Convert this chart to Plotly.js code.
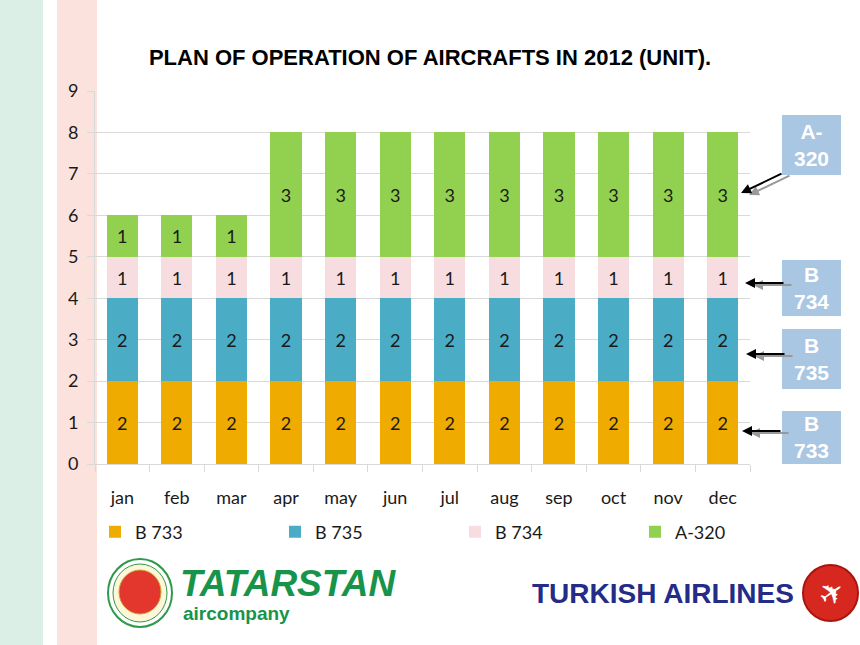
<!DOCTYPE html>
<html>
<head>
<meta charset="utf-8">
<script src="https://cdn.plot.ly/plotly-3.0.1.min.js"></script>
<style>
  html, body { margin: 0; padding: 0; background: #fff; }
  #chart { width: 860px; height: 645px; }
</style>
</head>
<body>
<div id="chart"></div>
<script>
// months and aircraft counts per type
const months = ['jan', 'feb', 'mar', 'apr', 'may', 'jun', 'jul', 'aug', 'sep', 'oct', 'nov', 'dec'];
const b733 = [2, 2, 2, 2, 2, 2, 2, 2, 2, 2, 2, 2];
const b735 = [2, 2, 2, 2, 2, 2, 2, 2, 2, 2, 2, 2];
const b734 = [1, 1, 1, 1, 1, 1, 1, 1, 1, 1, 1, 1];
const a320 = [1, 1, 1, 3, 3, 3, 3, 3, 3, 3, 3, 3];

const seriesNames = ['B 733', 'B 735', 'B 734', 'A-320'];
const seriesColors = ['#f0ab00', '#4bacc6', '#f8dde0', '#92d050'];
const tagLabels = ['A-<br>320', 'B<br>734', 'B<br>735', 'B<br>733'];

// plot area in pixels: x 95..750, y 91..464
const L = 95, R = 750, T = 91, B = 464;
const px = x => (x - L) / (R - L);
const py = y => (B - y) / (B - T);

const labelFont = { family: 'Lato, "Open Sans", sans-serif', size: 18, color: '#1a1a1a' };

function bar(name, vals, color, legend) {
    return {
        type: 'bar',
        name: name,
        x: months,
        y: vals,
        text: vals.map(String),
        textposition: 'inside',
        insidetextanchor: 'middle',
        textangle: 0,
        constraintext: 'none',
        textfont: labelFont,
        marker: { color: color, line: { width: 0 } },
        legend: legend,
        hoverinfo: 'skip'
    };
}

const data = [
    bar(seriesNames[0], b733, seriesColors[0], 'legend'),
    bar(seriesNames[1], b735, seriesColors[1], 'legend'),
    bar(seriesNames[2], b734, seriesColors[2], 'legend'),
    bar(seriesNames[3], a320, seriesColors[3], 'legend2')
];

const shapes = [
    // side stripes
    { type: 'rect', xref: 'paper', yref: 'paper', x0: px(0), x1: px(43), y0: py(645), y1: py(0),
      fillcolor: '#dcefe6', line: { width: 0 }, layer: 'below' },
    { type: 'rect', xref: 'paper', yref: 'paper', x0: px(57), x1: px(97), y0: py(645), y1: py(0),
      fillcolor: '#fce2dc', line: { width: 0 }, layer: 'below' }
];

// tag boxes on the right
const boxes = [[115, 175], [260, 316], [329, 389], [411, 464]];
boxes.forEach(b => {
    shapes.push({ type: 'rect', xref: 'paper', yref: 'paper', x0: px(782), x1: px(841), y0: py(b[1]), y1: py(b[0]),
        fillcolor: '#a9c6e2', line: { width: 0 } });
});

// Tatarstan emblem
shapes.push({ type: 'circle', xref: 'paper', yref: 'paper', x0: px(108), x1: px(172), y0: py(627), y1: py(559),
    fillcolor: '#ffffff', line: { color: '#2e9a48', width: 2 } });
shapes.push({ type: 'circle', xref: 'paper', yref: 'paper', x0: px(113), x1: px(167), y0: py(622), y1: py(564),
    fillcolor: '#fdf6d8', line: { color: '#2e9a48', width: 1 } });
shapes.push({ type: 'circle', xref: 'paper', yref: 'paper', x0: px(119), x1: px(161), y0: py(614), y1: py(570),
    fillcolor: '#e3372d', line: { color: '#c9a23a', width: 1 } });
// Turkish Airlines emblem
shapes.push({ type: 'circle', xref: 'paper', yref: 'paper', x0: px(803), x1: px(858), y0: py(621), y1: py(565),
    fillcolor: '#d7281f', line: { color: '#a9150f', width: 2 } });

const annotations = [];
const tagY = [145, 288, 359, 437];
tagLabels.forEach((t, i) => {
    annotations.push({ xref: 'paper', yref: 'paper', x: px(811), y: py(tagY[i]), text: t, showarrow: false,
        font: { family: 'Liberation Sans, Arial, sans-serif', size: 21, color: '#ffffff', weight: 'bold' },
        xanchor: 'center', yanchor: 'middle' });
});

// double arrows: [tipX, tipY, dx, dy]
const arrows = [[741, 193, 42, -20], [745, 283, 40, 0], [746, 354, 40, 0], [742, 431, 40, 0]];
arrows.forEach(a => {
    annotations.push({ xref: 'paper', yref: 'paper', x: px(a[0] + 8), y: py(a[1] + 2), ax: a[2], ay: a[3],
        text: '', showarrow: true, arrowhead: 2, arrowsize: 1, arrowwidth: 2, arrowcolor: '#999999' });
    annotations.push({ xref: 'paper', yref: 'paper', x: px(a[0]), y: py(a[1]), ax: a[2], ay: a[3],
        text: '', showarrow: true, arrowhead: 2, arrowsize: 1, arrowwidth: 2, arrowcolor: '#000000' });
});

// logos as text
annotations.push({ xref: 'paper', yref: 'paper', x: px(178), y: py(583), text: '<i>TATARSTAN</i>', showarrow: false,
    xanchor: 'left', yanchor: 'middle',
    font: { family: 'Liberation Sans, Arial, sans-serif', size: 37, color: '#17934a', weight: 'bold' } });
annotations.push({ xref: 'paper', yref: 'paper', x: px(181), y: py(613), text: 'aircompany', showarrow: false,
    xanchor: 'left', yanchor: 'middle',
    font: { family: 'Liberation Sans, Arial, sans-serif', size: 19, color: '#17934a', weight: 'bold' } });
annotations.push({ xref: 'paper', yref: 'paper', x: px(530), y: py(593), text: 'TURKISH AIRLINES', showarrow: false,
    xanchor: 'left', yanchor: 'middle',
    font: { family: 'Liberation Sans, Arial, sans-serif', size: 28, color: '#242c88', weight: 'bold' } });
annotations.push({ xref: 'paper', yref: 'paper', x: px(831), y: py(593), text: '✈', showarrow: false,
    xanchor: 'center', yanchor: 'middle', textangle: -35,
    font: { family: 'DejaVu Sans, sans-serif', size: 30, color: '#ffffff' } });

const legendBase = {
    orientation: 'h',
    xref: 'container', xanchor: 'left',
    yref: 'container', y: 1 - 532 / 645, yanchor: 'middle',
    entrywidth: 135, entrywidthmode: 'pixels',
    bgcolor: 'rgba(0,0,0,0)',
    font: labelFont,
    traceorder: 'normal'
};

const layout = {
    width: 860,
    height: 645,
    margin: { l: L, r: 860 - R, t: T, b: 645 - B },
    paper_bgcolor: '#ffffff',
    plot_bgcolor: 'rgba(0,0,0,0)',
    barmode: 'stack',
    bargap: 0.43,
    title: {
        text: 'PLAN OF OPERATION OF AIRCRAFTS IN 2012 (UNIT).',
        font: { family: 'Liberation Sans, Arial, sans-serif', size: 22, color: '#000000', weight: 'bold' },
        x: 430 / 860, xref: 'container', xanchor: 'center', y: 1 - 57 / 645, yref: 'container', yanchor: 'middle'
    },
    xaxis: {
        showline: true, linecolor: '#d9d9d9', linewidth: 1,
        ticks: 'outside', tickson: 'boundaries', ticklen: 7, tickcolor: '#d9d9d9',
        ticklabelstandoff: 17,
        tickfont: labelFont,
        showgrid: false
    },
    yaxis: {
        range: [0, 9], dtick: 1,
        showline: true, linecolor: '#d9d9d9', linewidth: 1,
        ticks: 'outside', ticklen: 7, tickcolor: '#d9d9d9',
        showgrid: true, gridcolor: '#d9d9d9', gridwidth: 1,
        zeroline: false,
        tickfont: labelFont,
        ticklabelstandoff: 5
    },
    legend: Object.assign({}, legendBase, { x: 95 / 860 }),
    legend2: Object.assign({}, legendBase, { x: 635 / 860 }),
    shapes: shapes,
    annotations: annotations,
    showlegend: true
};

Plotly.newPlot('chart', data, layout, { displayModeBar: false, staticPlot: true });
</script>
</body>
</html>
